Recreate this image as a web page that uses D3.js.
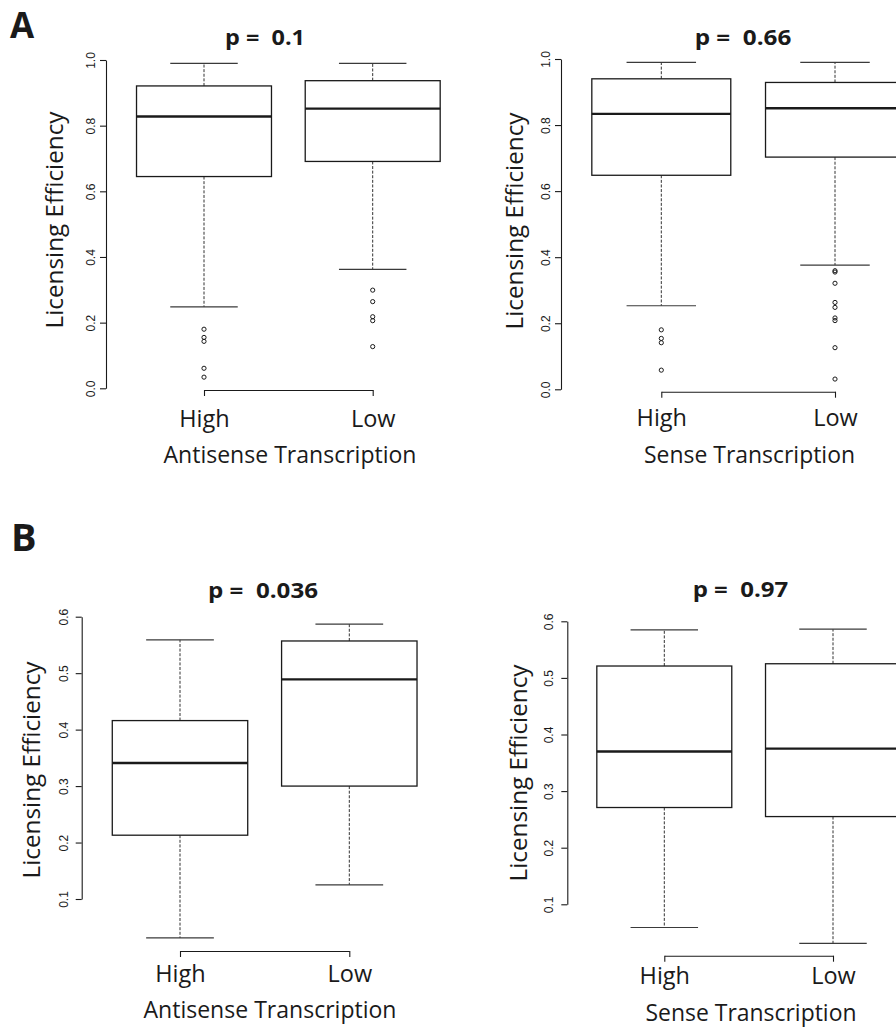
<!DOCTYPE html>
<html>
<head>
<meta charset="utf-8">
<script src="https://cdn.jsdelivr.net/npm/d3@7"></script>
<style>
  html, body { margin: 0; padding: 0; background: #fff; }
  svg { display: block; }
  text { white-space: pre; }
</style>
</head>
<body>
<svg id="chart" width="896" height="1028"></svg>
<script>
// ---------------- DATA ----------------
const groups = ["High", "Low"];
const panelLetters = ["A", "B"];
const pTitles = ["p =  0.1", "p =  0.66", "p =  0.036", "p =  0.97"];
const xTitles = ["Antisense Transcription", "Sense Transcription", "Antisense Transcription", "Sense Transcription"];
const yTitle = "Licensing Efficiency";
const yTicksA = [0.0, 0.2, 0.4, 0.6, 0.8, 1.0];
const yTicksB = [0.1, 0.2, 0.3, 0.4, 0.5, 0.6];

// box statistics per panel: [High, Low]
const whiskerLow  = [[0.248, 0.362], [0.253, 0.376], [0.031, 0.125], [0.059, 0.031]];
const q1          = [[0.645, 0.691], [0.648, 0.703], [0.213, 0.300], [0.271, 0.255]];
const medians     = [[0.828, 0.852], [0.834, 0.851], [0.341, 0.489], [0.370, 0.375]];
const q3          = [[0.921, 0.937], [0.940, 0.929], [0.416, 0.557], [0.521, 0.525]];
const whiskerHigh = [[0.990, 0.990], [0.990, 0.990], [0.559, 0.587], [0.585, 0.586]];
const outliers = [
  [[0.180, 0.155, 0.143, 0.061, 0.034], [0.299, 0.264, 0.218, 0.206, 0.127]],
  [[0.180, 0.154, 0.141, 0.058], [0.359, 0.355, 0.321, 0.263, 0.248, 0.216, 0.208, 0.126, 0.031]],
  [[], []],
  [[], []]
];

// ---------------- LAYOUT ----------------
const panels = [
  { ticks: yTicksA, yRange: [388.3, 60],    xRange: [204, 372.7],   axisX: 106,   axisY: 390,   tickGap: 11.5,
    tickLabY: 426.7, xTitleY: 463,  xTitleX: 290,   xTitleW: 253, titleX: 265,   titleY: 45,  titleW: 80,
    yLabX: 63,  yLabY: 220 },
  { ticks: yTicksA, yRange: [389.3, 59],    xRange: [661.3, 835],   axisX: 561,   axisY: 391.7, tickGap: 11.5,
    tickLabY: 425.7, xTitleY: 463.3, xTitleX: 749.5, xTitleW: 211, titleX: 743,   titleY: 45, titleW: 96.7,
    yLabX: 523, yLabY: 221 },
  { ticks: yTicksB, yRange: [899, 616.7],   xRange: [180, 349.3],   axisX: 81.7,  axisY: 951,   tickGap: 13.4,
    tickLabY: 981.7, xTitleY: 1018.3, xTitleX: 270, xTitleW: 253, titleX: 263,   titleY: 598, titleW: 110,
    yLabX: 40,  yLabY: 770 },
  { ticks: yTicksB, yRange: [904.3, 621.3], xRange: [664.3, 833],   axisX: 567.3, axisY: 955.7, tickGap: 14.6,
    tickLabY: 984.3, xTitleY: 1021, xTitleX: 751,   xTitleW: 211, titleX: 740.5, titleY: 597, titleW: 95.6,
    yLabX: 527, yLabY: 773 }
];
const letterPos = [{ x: 10, y: 38, s: 35 }, { x: 11, y: 551, s: 38 }];

const INK = "#1a1a1a";
const svg = d3.select("#chart");

panelLetters.forEach((L, i) => {
  svg.append("text")
    .attr("x", letterPos[i].x).attr("y", letterPos[i].y)
    .attr("font-family", "'Open Sans', 'DejaVu Sans', sans-serif")
    .attr("font-weight", 700).attr("font-size", letterPos[i].s)
    .attr("fill", INK).text(L);
});

panels.forEach((P, pi) => {
  const g = svg.append("g");
  const y = d3.scaleLinear()
    .domain([P.ticks[0], P.ticks[P.ticks.length - 1]])
    .range(P.yRange);
  const x = d3.scalePoint().domain(groups).range(P.xRange);
  const step = P.xRange[1] - P.xRange[0];
  const boxHalf = 0.4 * step, capHalf = 0.2 * step;

  // y axis
  const yAx = g.append("g").attr("transform", `translate(${P.axisX},0)`)
    .call(d3.axisLeft(y).tickValues(P.ticks).tickSize(6).tickSizeOuter(0).tickFormat(d3.format(".1f")));
  yAx.select(".domain").attr("stroke", INK).attr("stroke-width", 1.1);
  yAx.selectAll(".tick line").attr("stroke", INK).attr("stroke-width", 1.1);
  yAx.selectAll(".tick text")
    .attr("x", null).attr("dy", null)
    .attr("transform", `translate(${-P.tickGap},0) rotate(-90)`)
    .attr("text-anchor", "middle")
    .attr("font-family", "'Liberation Sans', Arial, sans-serif")
    .attr("font-size", 12).attr("fill", INK);

  // x axis
  const xAx = g.append("g").attr("transform", `translate(0,${P.axisY})`)
    .call(d3.axisBottom(x).tickSize(6).tickSizeOuter(0));
  xAx.select(".domain").attr("stroke", INK).attr("stroke-width", 1.1);
  xAx.selectAll(".tick line").attr("stroke", INK).attr("stroke-width", 1.1);
  xAx.selectAll(".tick text")
    .attr("y", P.tickLabY - P.axisY).attr("dy", null)
    .attr("font-family", "'Open Sans', 'DejaVu Sans', sans-serif")
    .attr("font-size", 23.5).attr("fill", INK);

  // boxes
  groups.forEach((grp, gi) => {
    const cx = x(grp);
    const bg = g.append("g");
    // whiskers (dashed)
    bg.append("line").attr("x1", cx).attr("x2", cx)
      .attr("y1", y(q3[pi][gi])).attr("y2", y(whiskerHigh[pi][gi]))
      .attr("stroke", "#333").attr("stroke-width", 1).attr("stroke-dasharray", "3,1.6");
    bg.append("line").attr("x1", cx).attr("x2", cx)
      .attr("y1", y(q1[pi][gi])).attr("y2", y(whiskerLow[pi][gi]))
      .attr("stroke", "#333").attr("stroke-width", 1).attr("stroke-dasharray", "3,1.6");
    // caps
    [whiskerHigh[pi][gi], whiskerLow[pi][gi]].forEach(v => {
      bg.append("line").attr("x1", cx - capHalf).attr("x2", cx + capHalf)
        .attr("y1", y(v)).attr("y2", y(v))
        .attr("stroke", "#3a3a3a").attr("stroke-width", 1.2);
    });
    // box
    bg.append("rect")
      .attr("x", cx - boxHalf).attr("width", 2 * boxHalf)
      .attr("y", y(q3[pi][gi])).attr("height", y(q1[pi][gi]) - y(q3[pi][gi]))
      .attr("fill", "#fff").attr("stroke", INK).attr("stroke-width", 1.3);
    // median
    bg.append("line").attr("x1", cx - boxHalf).attr("x2", cx + boxHalf)
      .attr("y1", y(medians[pi][gi])).attr("y2", y(medians[pi][gi]))
      .attr("stroke", INK).attr("stroke-width", 2.4);
    // outliers
    bg.selectAll("circle.out").data(outliers[pi][gi]).join("circle")
      .attr("class", "out")
      .attr("cx", cx).attr("cy", d => y(d)).attr("r", 2.1)
      .attr("fill", "none").attr("stroke", INK).attr("stroke-width", 1);
  });

  // titles
  g.append("text")
    .attr("x", P.titleX).attr("y", P.titleY).attr("text-anchor", "middle")
    .attr("font-family", "'Open Sans', 'DejaVu Sans', sans-serif")
    .attr("font-weight", 700).attr("font-size", 21.5).attr("fill", INK)
    .attr("textLength", P.titleW).attr("lengthAdjust", "spacingAndGlyphs")
    .text(pTitles[pi]);

  g.append("text")
    .attr("x", P.xTitleX).attr("y", P.xTitleY).attr("text-anchor", "middle")
    .attr("font-family", "'Open Sans', 'DejaVu Sans', sans-serif")
    .attr("font-size", 23.5).attr("fill", INK)
    .attr("textLength", P.xTitleW).attr("lengthAdjust", "spacingAndGlyphs")
    .text(xTitles[pi]);

  g.append("text")
    .attr("transform", `translate(${P.yLabX},${P.yLabY}) rotate(-90)`)
    .attr("text-anchor", "middle")
    .attr("font-family", "'Open Sans', 'DejaVu Sans', sans-serif")
    .attr("font-size", 23.5).attr("fill", INK)
    .attr("textLength", 217).attr("lengthAdjust", "spacingAndGlyphs")
    .text(yTitle);
});
</script>
</body>
</html>
